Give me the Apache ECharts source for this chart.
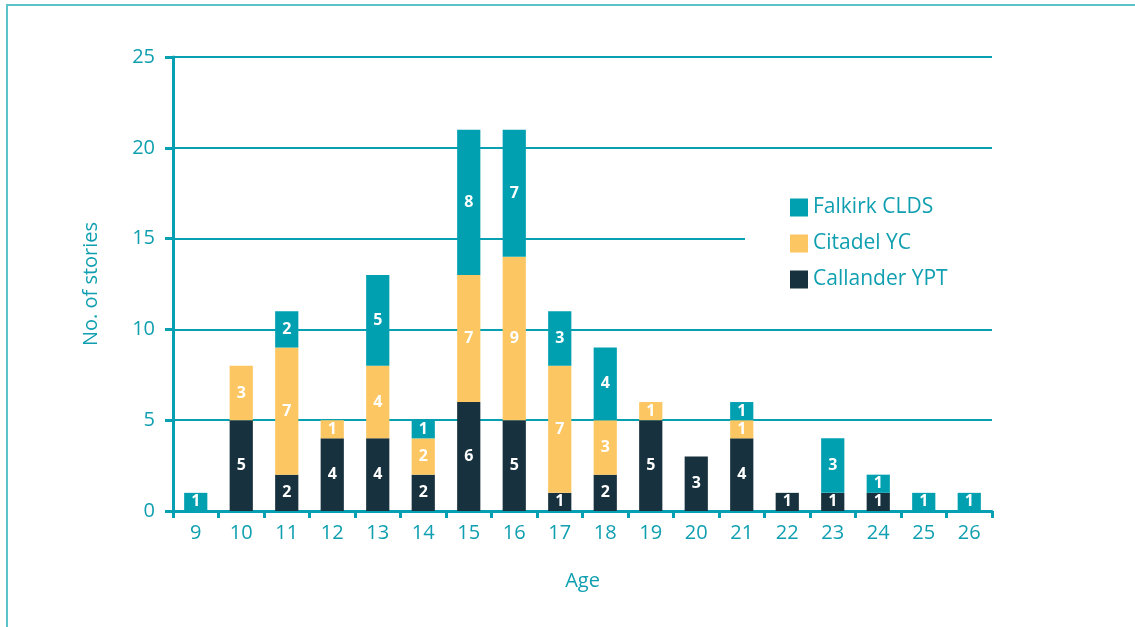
<!DOCTYPE html>
<html><head><meta charset="utf-8">
<script src="https://cdn.jsdelivr.net/npm/echarts@6/dist/echarts.min.js"></script>
<style>html,body{margin:0;padding:0;background:#fff}#c{width:1135px;height:627px}</style>
</head><body><div id="c"></div>
<script>
const ages = ['9','10','11','12','13','14','15','16','17','18','19','20','21','22','23','24','25','26'];
const callander = [0,5,2,4,4,2,6,5,1,2,5,3,4,1,1,1,0,0];
const citadel   = [0,3,7,1,4,2,7,9,7,3,1,0,1,0,0,0,0,0];
const falkirk   = [1,0,2,0,5,1,8,7,3,4,0,0,1,0,3,1,1,1];
const yTicks = [0,5,10,15,20,25];

const TEAL_TXT = '#0f9fb0';
const font = '"Open Sans", "Noto Sans", sans-serif';
const chart = echarts.init(document.getElementById('c'), null, {renderer:'canvas'});
const lbl = {show:true, position:'inside', color:'#fff', fontWeight:'bold', fontSize:16, fontFamily:font,
  formatter: p => p.value > 0 ? p.value : ''};
function ser(name, data, color){
  return {name, type:'bar', stack:'s', data: data.map(v=>v===0?null:v), barWidth:'51%',
    itemStyle:{color}, label:lbl, emphasis:{disabled:true}};
}
chart.setOption({
  animation:false,
  backgroundColor:'#fff',
  graphic:[{type:'polyline', shape:{points:[[7,627],[7,5],[1135,5]]}, style:{stroke:'#5cc3cb', lineWidth:2, fill:null}, z:100}],
  grid:{left:173, right:143, top:57, bottom:116, containLabel:false},
  legend:{
    orient:'vertical', left:745, top:189, backgroundColor:'#fff', padding:[8,50,8,45],
    itemWidth:18, itemHeight:18, itemGap:15, icon:'rect',
    textStyle:{color:TEAL_TXT, fontSize:21, fontFamily:font},
    data:['Falkirk CLDS','Citadel YC','Callander YPT'], z:10
  },
  xAxis:{type:'category', data:ages, name:'Age', nameLocation:'middle', nameGap:60,
    nameTextStyle:{color:TEAL_TXT, fontSize:20, fontFamily:font},
    axisLine:{lineStyle:{color:'#07a0b2', width:3}},
    axisTick:{show:true, length:7, lineStyle:{color:'#07a0b2', width:3}},
    axisLabel:{color:TEAL_TXT, fontSize:20, fontFamily:font, margin:12}},
  yAxis:{type:'value', min:0, max:25, interval:5, name:'No. of stories', nameLocation:'middle', nameGap:72,
    nameTextStyle:{color:TEAL_TXT, fontSize:20, fontFamily:font},
    axisLine:{show:true, lineStyle:{color:'#07a0b2', width:3}},
    axisTick:{show:true, length:8, lineStyle:{color:'#07a0b2', width:3}},
    splitLine:{lineStyle:{color:'#07a0b2', width:2}},
    axisLabel:{color:TEAL_TXT, fontSize:20, fontFamily:font, margin:18,
      formatter: v => yTicks.includes(v) ? String(v) : ''}},
  series:[ser('Callander YPT', callander, '#17323e'), ser('Citadel YC', citadel, '#fcc762'), ser('Falkirk CLDS', falkirk, '#00a0b1')]
});
</script></body></html>
